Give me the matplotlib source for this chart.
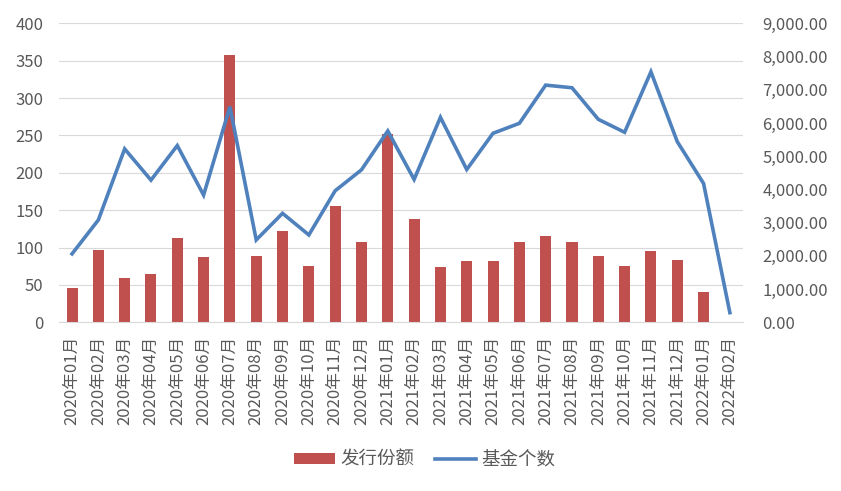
import matplotlib
matplotlib.use("Agg")
import numpy as np
import matplotlib.pyplot as plt
from matplotlib.ticker import FuncFormatter, MultipleLocator

plt.rcParams["font.family"] = ["Noto Sans CJK SC", "DejaVu Sans"]

months = [f"{y}年{m:02d}月" for y, m in
          [(2020, i) for i in range(1, 13)] + [(2021, i) for i in range(1, 13)] + [(2022, 1), (2022, 2)]]

# 发行份额 (left axis)
issue_share = [46, 97, 59, 65, 113, 87, 358, 89, 122, 75, 156, 107, 252,
               138, 74, 82, 82, 107, 115, 107, 89, 75, 95, 83, 40, 0]

# 基金个数 (right axis)
fund_count = [2060, 3080, 5220, 4280, 5320, 3830, 6490, 2480, 3280, 2630, 3960, 4590, 5760,
              4300, 6170, 4600, 5690, 5990, 7140, 7060, 6110, 5720, 7540, 5440, 4180, 290]

BAR_COLOR = "#C0504D"
LINE_COLOR = "#4F81BD"
TEXT_COLOR = "#595959"
GRID_COLOR = "#D9D9D9"


def main():
    fig = plt.figure(figsize=(8.41, 4.91), dpi=100)
    ax = fig.add_axes([0.070, 0.3436, 0.8135, 0.6089])
    ax2 = ax.twinx()

    x = np.arange(len(months))
    bars = ax.bar(x, issue_share, width=0.42, color=BAR_COLOR, label="发行份额", zorder=2)
    line, = ax2.plot(x, fund_count, color=LINE_COLOR, lw=2.6, label="基金个数",
                     solid_joinstyle="miter", zorder=3)

    ax.set_xlim(-0.5, len(months) - 0.5)
    ax.set_ylim(0, 400)
    ax.yaxis.set_major_locator(MultipleLocator(50))
    ax2.set_ylim(0, 9000)
    ax2.yaxis.set_major_locator(MultipleLocator(1000))
    ax2.yaxis.set_major_formatter(FuncFormatter(lambda v, p: f"{v:,.2f}"))

    ax.grid(axis="y", color=GRID_COLOR, lw=0.8, zorder=0)
    ax.set_axisbelow(True)

    for a in (ax, ax2):
        for s in a.spines.values():
            s.set_visible(False)
    ax.spines["bottom"].set_visible(True)
    ax.spines["bottom"].set_color(GRID_COLOR)
    ax.spines["bottom"].set_linewidth(0.8)

    ax.set_xticks(x)
    ax.set_xticklabels(months, rotation=90)
    ax.tick_params(axis="x", length=0, pad=10, labelsize=12, labelcolor=TEXT_COLOR)
    ax.tick_params(axis="y", length=0, pad=11, labelsize=12, labelcolor=TEXT_COLOR)
    ax2.tick_params(axis="y", length=0, pad=14, labelsize=12, labelcolor=TEXT_COLOR)

    leg = fig.legend([bars, line], ["发行份额", "基金个数"], loc="center",
                     bbox_to_anchor=(0.505, 0.063), ncol=2, frameon=False,
                     fontsize=13.3, handlelength=2.2, handleheight=0.5,
                     handletextpad=0.3, columnspacing=1.1)
    for t in leg.get_texts():
        t.set_color(TEXT_COLOR)

    fig.savefig("out.png", dpi=100)
    plt.close(fig)


if __name__ == "__main__":
    main()
